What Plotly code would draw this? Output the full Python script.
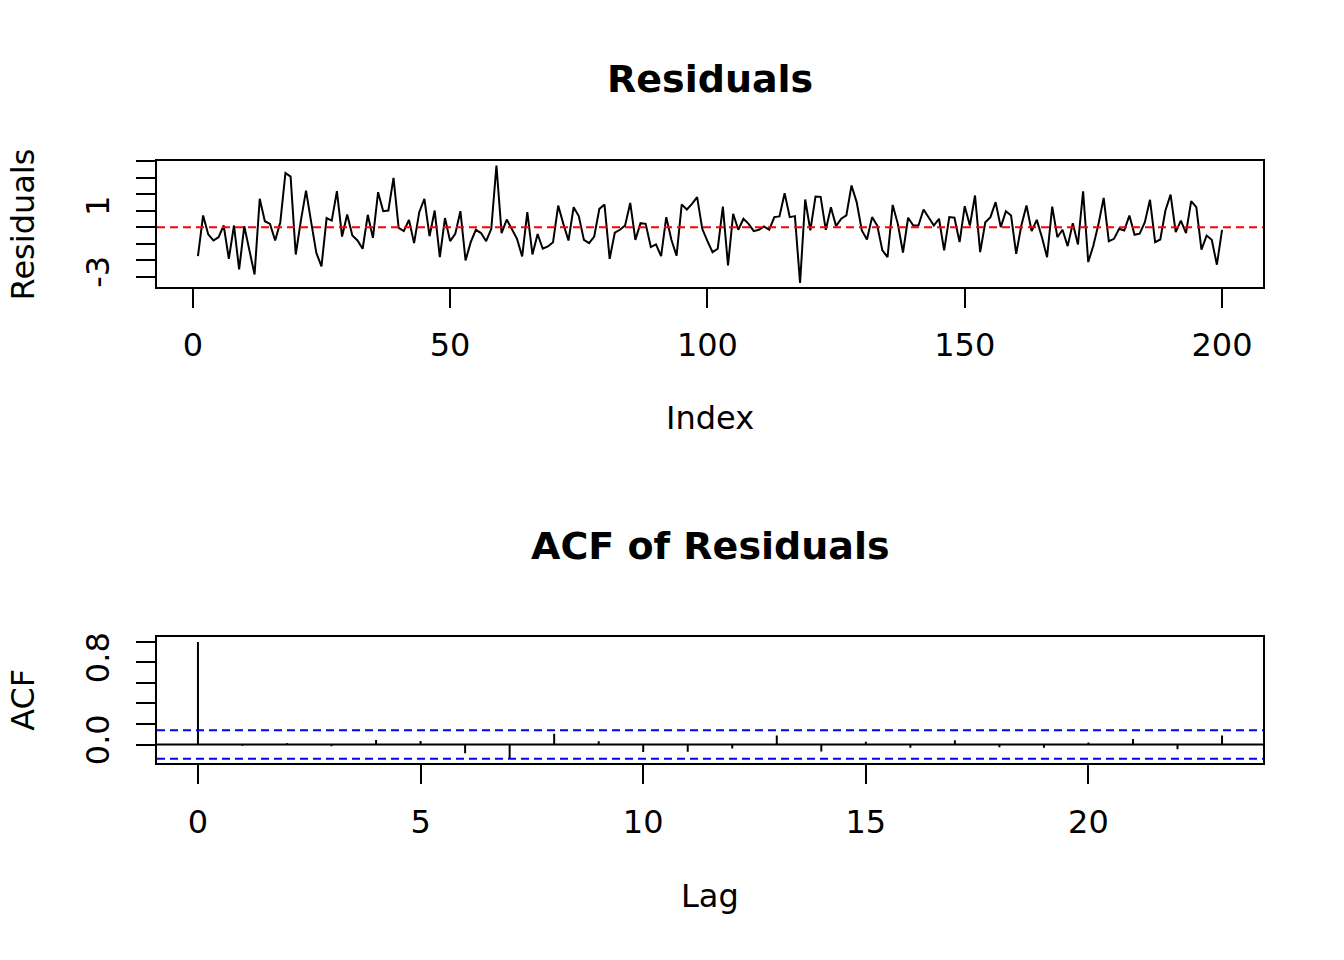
import plotly.graph_objects as go

# residual series (index 1..200)
resid_idx = list(range(1, 201))
resid = [
    -1.76, 0.71, -0.44, -0.81, -0.61, 0.10, -1.92, 0.10, -2.57, 0.06,
    -1.41, -2.87, 1.72, 0.36, 0.20, -0.81, 0.30, 3.29, 3.07, -1.66,
    0.40, 2.22, 0.30, -1.56, -2.38, 0.55, 0.40, 2.18, -0.57, 0.77,
    -0.51, -0.81, -1.31, 0.75, -0.65, 2.12, 0.97, 1.01, 2.99, -0.04,
    -0.24, 0.44, -0.97, 0.91, 1.72, -0.55, 1.01, -1.82, 0.55, -0.85,
    -0.40, 0.97, -2.02, -0.91, -0.16, -0.36, -0.85, -0.10, 3.74, -0.36,
    0.46, -0.10, -0.71, -1.78, 0.91, -1.66, -0.42, -1.31, -1.17, -0.91,
    1.31, 0.20, -0.81, 1.21, 0.67, -0.77, -0.97, -0.57, 1.11, 1.37,
    -1.92, -0.34, -0.16, 0.10, 1.47, -0.77, 0.24, 0.20, -1.21, -1.05,
    -1.76, 0.61, -0.77, -1.74, 1.37, 1.07, 1.41, 1.82, -0.10, -0.85,
    -1.52, -1.31, 1.25, -2.32, 0.81, -0.16, 0.51, 0.20, -0.24, -0.16,
    0.04, -0.16, 0.61, 0.65, 2.06, 0.61, 0.67, -3.39, 1.68, -0.20,
    1.86, 1.84, -0.16, 1.21, 0.06, 0.51, 0.71, 2.53, 1.52, -0.20,
    -0.75, 0.61, 0.10, -1.41, -1.82, 1.35, 0.20, -1.54, 0.57, 0.10,
    0.10, 1.07, 0.55, 0.10, 0.51, -1.41, 0.61, 0.57, -0.91, 1.27,
    0.10, 1.92, -1.52, 0.30, 0.61, 1.52, 0.00, 0.97, 0.71, -1.62,
    0.10, 1.31, -0.24, 0.44, -0.61, -1.82, 1.25, -0.61, -0.16, -1.15,
    0.24, -1.05, 2.18, -2.12, -1.11, 0.20, 1.78, -0.85, -0.71, -0.10,
    -0.20, 0.71, -0.46, -0.40, 0.30, 1.66, -0.91, -0.75, 1.01, 1.98,
    -0.30, 0.40, -0.36, 1.58, 1.21, -1.37, -0.51, -0.77, -2.28, -0.16,
]

# autocorrelations, lags 0..23
acf_lag = list(range(0, 24))
acf_val = [
    1.000, -0.013, 0.013, -0.016, 0.045, 0.035, -0.084, -0.135,
    0.106, 0.032, -0.074, -0.071, -0.039, 0.087, -0.068, 0.026,
    -0.032, 0.042, -0.026, -0.032, 0.019, 0.055, -0.045, 0.087,
]
ci_bound = 0.1386

resid_ticks = [-3, -2, -1, 0, 1, 2, 3, 4]
resid_ticktext = ["-3", "", "", "", "1", "", "", ""]
acf_ticks = [0.0, 0.2, 0.4, 0.6, 0.8, 1.0]
acf_ticktext = ["0.0", "", "", "", "0.8", ""]

# page is 1344x960, the browser body keeps an 8px margin round the figure
W, H = 1344, 960
OFF = 8
FW, FH = W - 2 * OFF, H - 2 * OFF
FONT = "DejaVu Sans"


def px_x(p):
    return (p - OFF) / FW


def px_y(p):
    return 1 - (p - OFF) / FH


# spikes for the acf: vertical segments from 0 to the value
spike_x, spike_y = [], []
for l, v in zip(acf_lag, acf_val):
    spike_x += [l, l, None]
    spike_y += [0, v, None]

fig = go.Figure()

fig.add_trace(go.Scatter(x=resid_idx, y=resid, mode="lines",
                         line=dict(color="black", width=2),
                         xaxis="x", yaxis="y", showlegend=False, hoverinfo="skip"))
fig.add_trace(go.Scatter(x=spike_x, y=spike_y, mode="lines",
                         line=dict(color="black", width=2),
                         xaxis="x2", yaxis="y2", showlegend=False, hoverinfo="skip"))

xdom = [px_x(157), px_x(1263)]
axis_common = dict(showgrid=False, showline=True, linecolor="black", linewidth=2,
                   mirror=True, ticks="outside", ticklen=19, tickwidth=2,
                   tickcolor="black", tickfont=dict(family=FONT, size=32, color="black"),
                   zeroline=False)

fig.update_layout(
    width=FW, height=FH,
    margin=dict(l=0, r=0, t=0, b=0),
    paper_bgcolor="white", plot_bgcolor="white",
    font=dict(family=FONT, color="black"),
    xaxis=dict(domain=xdom, range=[-6.96, 207.96], tickvals=[0, 50, 100, 150, 200],
               anchor="y", ticklabelstandoff=10, **axis_common),
    yaxis=dict(domain=[px_y(284), px_y(156.7)], range=[-3.63, 4.04],
               tickvals=resid_ticks, ticktext=resid_ticktext, tickangle=-90,
               anchor="x", ticklabelstandoff=14, **axis_common),
    xaxis2=dict(domain=xdom, range=[-0.92, 23.92], tickvals=[0, 5, 10, 15, 20],
                anchor="y2", ticklabelstandoff=10, **axis_common),
    yaxis2=dict(domain=[px_y(764), px_y(636.7)], range=[-0.184, 1.048],
                tickvals=acf_ticks, ticktext=acf_ticktext, tickangle=-90,
                anchor="x2", ticklabelstandoff=14, **axis_common),
)

# red dashed zero line on residual plot
fig.add_shape(type="line", xref="x domain", yref="y", x0=0, x1=1, y0=0, y1=0,
              line=dict(color="red", width=2, dash="8px,5px"))
# zero line and confidence bounds on acf plot
fig.add_shape(type="line", xref="x2 domain", yref="y2", x0=0, x1=1, y0=0, y1=0,
              line=dict(color="black", width=2))
for b in (ci_bound, -ci_bound):
    fig.add_shape(type="line", xref="x2 domain", yref="y2", x0=0, x1=1, y0=b, y1=b,
                  line=dict(color="blue", width=2, dash="8px,5px"))

annos = [
    ("<b>Residuals</b>", 710, 74, 38, 0),
    ("<b>ACF of Residuals</b>", 710, 545, 38, 0),
    ("Index", 710, 416, 32, 0),
    ("Lag", 710, 898, 32, 0),
    ("Residuals", 23, 221, 32, -90),
    ("ACF", 23, 700, 32, -90),
]
for txt, ax, ay, sz, ang in annos:
    fig.add_annotation(text=txt, x=px_x(ax), y=px_y(ay), xref="paper", yref="paper",
                       xanchor="center", yanchor="middle", showarrow=False, textangle=ang,
                       font=dict(family=FONT, size=sz, color="black"))

fig.write_html("out.html", config={"displayModeBar": False})
